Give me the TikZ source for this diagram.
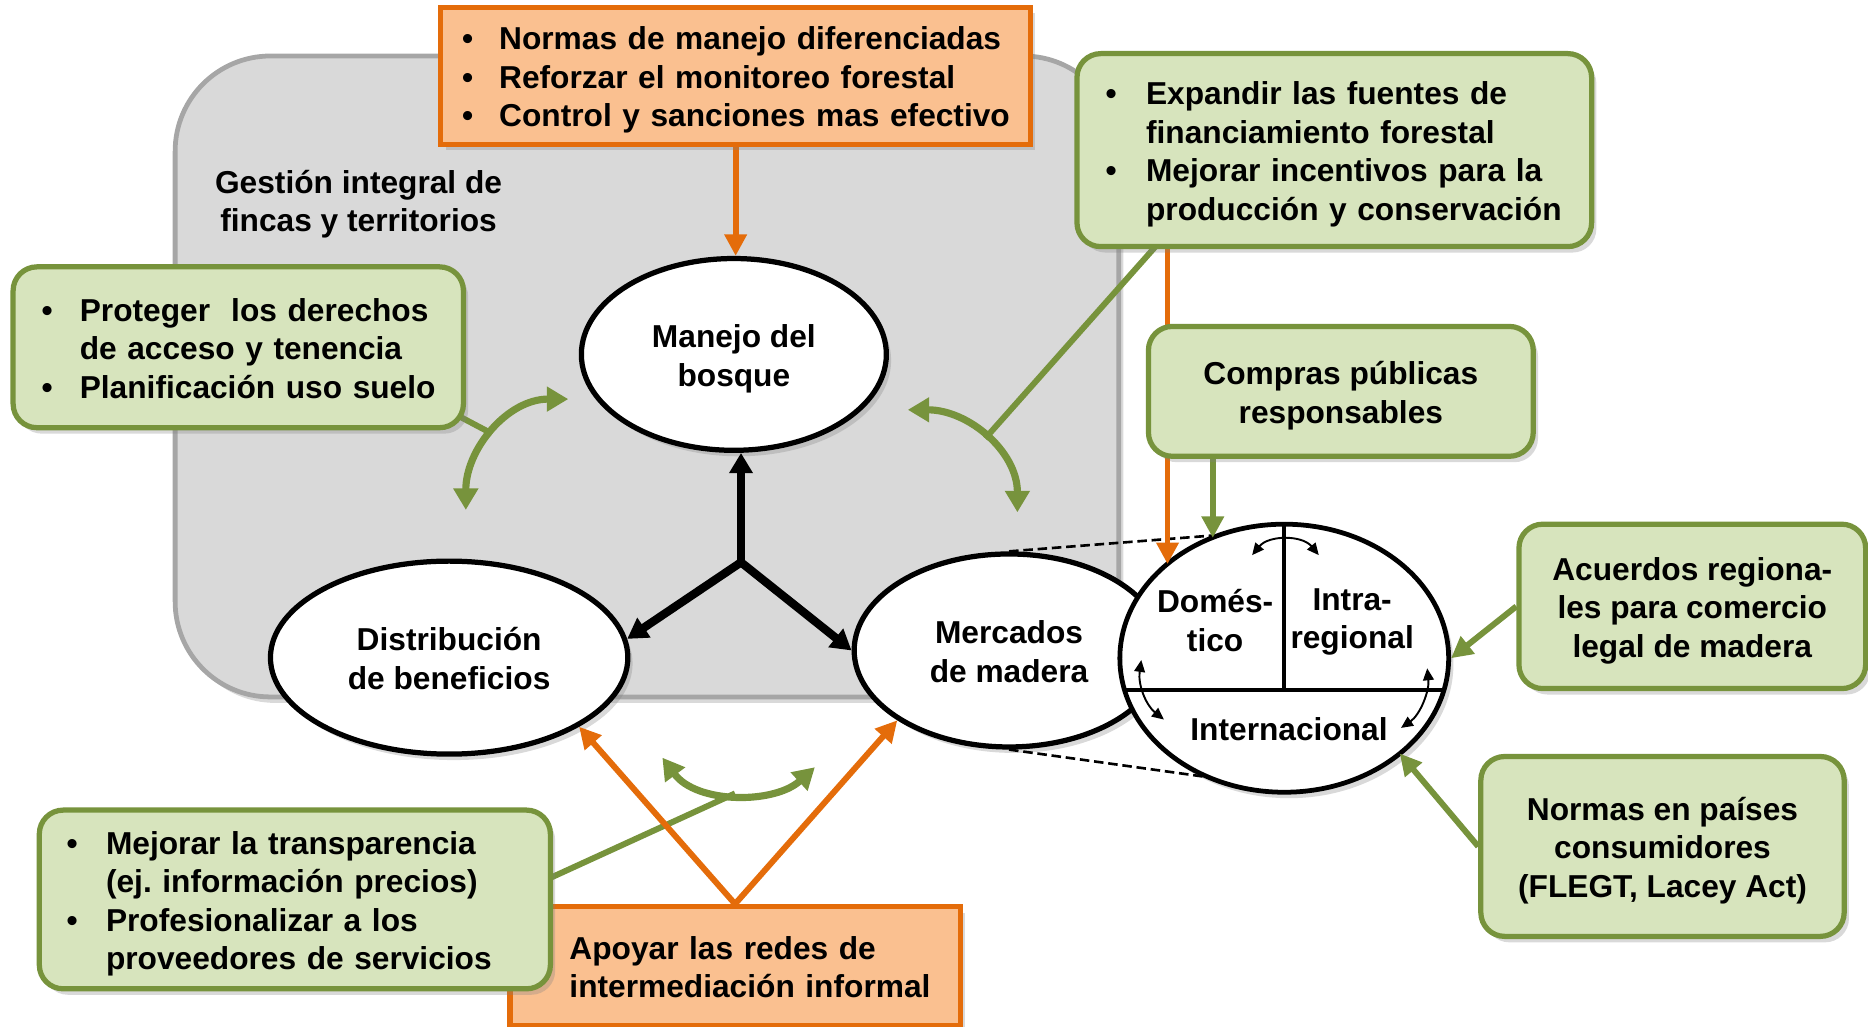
\documentclass[tikz,border=0pt]{standalone}
\usepackage{fontspec}
\setmainfont{Liberation Sans}
\usetikzlibrary{arrows.meta,shapes.geometric,shadows,calc}
\definecolor{gfill}{HTML}{D7E4BD}
\definecolor{gline}{HTML}{77933C}
\definecolor{ofill}{HTML}{FAC090}
\definecolor{oline}{HTML}{E46C0A}
\definecolor{grayfill}{HTML}{D9D9D9}
\definecolor{grayline}{HTML}{A6A6A6}
\newcommand{\bl}{\textbullet}
\newcommand{\dn}[1]{\raisebox{-2pt}[\height][\depth]{#1}}
\newcommand{\ctr}[1]{\dn{\begin{tabular}{@{}c@{}}#1\end{tabular}}}
\frenchspacing
\pgfdeclarelayer{ob}
\pgfdeclarelayer{gl}
\pgfdeclarelayer{bx}
\pgfsetlayers{ob,gl,main,bx}
\begin{document}
\begin{tikzpicture}[x=0.5pt,y=-0.5pt,
  every node/.style={font=\fontsize{13.3}{16.15}\selectfont\bfseries, inner sep=0pt},
  shad/.style={drop shadow={shadow xshift=2pt,shadow yshift=-2.5pt,opacity=0.3}},
  gbox/.style={shad, draw=gline, fill=gfill, line width=2.2pt, rounded corners=10pt},
  obox/.style={shad, draw=oline, fill=ofill, line width=2.2pt},
  oval/.style={shad, ellipse, draw=black, fill=white, line width=2.2pt},
  gcon/.style={draw=gline, line width=2.5pt},
  garr/.style={draw=gline, line width=2.5pt, -{Triangle[length=9pt,width=9pt]}},
  garc/.style={draw=gline, line width=3pt, {Triangle[length=9pt,width=10pt]}-{Triangle[length=9pt,width=10pt]}},
  oarr/.style={draw=oline, line width=2.5pt, -{Triangle[length=9pt,width=9pt]}},
  barr/.style={draw=black, line width=3.5pt, -{Triangle[length=8.5pt,width=9.5pt]}},
  sarr/.style={draw=black, line width=0.8pt, {Triangle[length=5pt,width=4.5pt]}-{Triangle[length=5pt,width=4.5pt]}},
  dline/.style={draw=black, line width=1.1pt, dash pattern=on 4pt off 2pt}
]
\useasboundingbox (0,0) rectangle (1568,862);

% ---------- boxes (top layer) ----------
\begin{pgfonlayer}{bx}
\node[obox, minimum width=247.5pt, minimum height=57.5pt, text width=229.5pt, inner xsep=9pt, align=left] (topbox) at (617.5,63.5)
 {\dn{\begin{tabular}{@{}p{15.5pt}@{}l@{}}\bl & Normas de manejo diferenciadas\\ \bl & Reforzar el monitoreo forestal\\ \bl & Control y sanciones mas efectivo\end{tabular}}};
\node[gbox, minimum width=189pt, minimum height=67.5pt, text width=165pt, inner xsep=12pt, align=left] (protbox) at (200,291.5)
 {\dn{\begin{tabular}{@{}p{16pt}@{}l@{}}\bl & Proteger~ los derechos\\ & de acceso y tenencia\\ \bl & Planificación uso suelo\end{tabular}}};
\node[gbox, minimum width=216pt, minimum height=81pt, text width=192pt, inner xsep=12pt, align=left] (finbox) at (1120,126)
 {\dn{\begin{tabular}{@{}p{17pt}@{}l@{}}\bl & Expandir las fuentes de\\ & financiamiento forestal\\ \bl & Mejorar incentivos para la\\ & producción y conservación\end{tabular}}};
\node[gbox, minimum width=161.5pt, minimum height=54.5pt] (compbox) at (1125.5,328.5)
 {\ctr{Compras públicas\\responsables}};
\node[gbox, minimum width=145.5pt, minimum height=69pt] (acubox) at (1420.5,509)
 {\ctr{Acuerdos regiona-\\les para comercio\\legal de madera}};
\node[gbox, minimum width=152.5pt, minimum height=75.5pt] (normbox) at (1395.5,710.5)
 {\ctr{Normas en países\\consumidores\\(FLEGT, Lacey Act)}};
\node[obox, minimum width=189pt, minimum height=50pt, text width=139pt, inner xsep=25pt, align=left] (apoybox) at (617,811)
 {\dn{\begin{tabular}{@{}l@{}}Apoyar las redes de\\intermediación informal\end{tabular}}};
\node[gbox, minimum width=214.5pt, minimum height=75pt, text width=191.5pt, inner xsep=11.5pt, align=left] (transbox) at (247.5,755)
 {\dn{\begin{tabular}{@{}p{16.5pt}@{}l@{}}\bl & Mejorar la transparencia\\ & (ej. información precios)\\ \bl & Profesionalizar a los\\ & proveedores de servicios\end{tabular}}};
\end{pgfonlayer}

% ---------- orange line behind the gray area ----------
\coordinate (oc) at (980,60);
\begin{pgfonlayer}{ob}
\draw[draw=oline, line width=2.5pt] (topbox.east |- oc) -- (oc);
\end{pgfonlayer}

% ---------- gray area ----------
\begin{pgfonlayer}{gl}
\node[shad, draw=grayline, fill=grayfill, line width=2pt, rounded corners=40pt, minimum width=396pt, minimum height=269pt] (gray) at (543,316) {};
\node (gest) at (301,168) {\ctr{Gestión integral de\\fincas y territorios}};
\end{pgfonlayer}

% ---------- green connectors from boxes ----------
\coordinate (pj) at (413,364);
\coordinate (fj) at (827,368);
\coordinate (tj) at (617,666);
\draw[gcon] ($(protbox.south east)+(-10,-14)$) -- (pj);
\draw[gcon] ($(finbox.south west)+(75,-10)$) -- (fj);
\draw[gcon] ($(transbox.east)+(-20,-10)$) -- (tj);

% ---------- ellipses ----------
\node[oval, minimum width=128pt, minimum height=80.5pt] (man) at (616,297.5) {\ctr{Manejo del\\bosque}};
\node[oval, minimum width=150pt, minimum height=81pt] (dist) at (377,552) {\ctr{Distribución\\de beneficios}};
\node[oval, minimum width=130pt, minimum height=81pt] (merc) at (847,546) {\ctr{Mercados\\de madera}};
\node[oval, minimum width=138pt, minimum height=112.5pt, line width=2pt] (mk) at (1078,552.5) {};

\coordinate (hL) at ($(mk.center)+(-134,26.5)$);
\coordinate (hR) at ($(mk.center)+(134,26.5)$);
\draw[line width=1.8pt] (hL) -- (hR);
\draw[line width=1.8pt] (mk.north) -- (mk.north |- hL);
\node (mkd) at (1020,520) {\ctr{Domés-\\tico}};
\node (mki) at (1135,518) {\ctr{Intra-\\regional}};
\node (mkn) at (1082,612) {Internacional};

% dashed zoom lines
\coordinate (mkT) at ($(mk.center)+(-60,-103)$);
\coordinate (mkB) at ($(mk.center)+(-63,100)$);
\draw[dline] (merc.north) -- (mkT);
\draw[dline] (merc.south) -- (mkB);

% small arrows inside market ellipse
\coordinate (s1a) at (1051,466); \coordinate (s1b) at (1107,466);
\coordinate (s2a) at (958,554);  \coordinate (s2b) at (977,604);
\coordinate (s3a) at (1198,561); \coordinate (s3b) at (1176,611);
\draw[sarr] (s1a) .. controls (1065,449) and (1093,449) .. (s1b);
\draw[sarr] (s2a) .. controls (955,575) and (962,592) .. (s2b);
\draw[sarr] (s3a) .. controls (1200,580) and (1192,600) .. (s3b);

% ---------- black arrows ----------
\coordinate (J) at (622,472);
\draw[barr] (J) -- (J |- man.south);
\draw[barr] (J) -- (dist.6);
\draw[barr] (J) -- (merc.west);

% ---------- green double arcs ----------
\coordinate (a1s) at (391,428); \coordinate (a1e) at (477,335);
\coordinate (a2s) at (762,344); \coordinate (a2e) at (854,430);
\coordinate (a3s) at (556,636); \coordinate (a3e) at (684,644);
\draw[garc] (a1s) .. controls (391,377) and (426,335) .. (a1e);
\draw[garc] (a2s) .. controls (813,344) and (854,379) .. (a2e);
\draw[garc] (a3s) .. controls (585,675) and (650,675) .. (a3e);

% ---------- orange arrows ----------
\draw[oarr] (topbox.south) -- (topbox.south |- man.north);
\draw[oarr] (apoybox.north) -- (dist.-28);
\draw[oarr] (apoybox.north) -- (merc.212);
\draw[oarr] (oc) -- ($(mk.center)+(-98,-79)$);

% ---------- green straight arrows ----------
\draw[garr] ($(compbox.south)+(-107.5,0)$) -- ($(mk.center)+(-60,-101)$);
\draw[garr] (acubox.west) -- (mk.east);
\draw[garr] (normbox.west) -- ($(mk.center)+(97,80)$);
\end{tikzpicture}
\end{document}
